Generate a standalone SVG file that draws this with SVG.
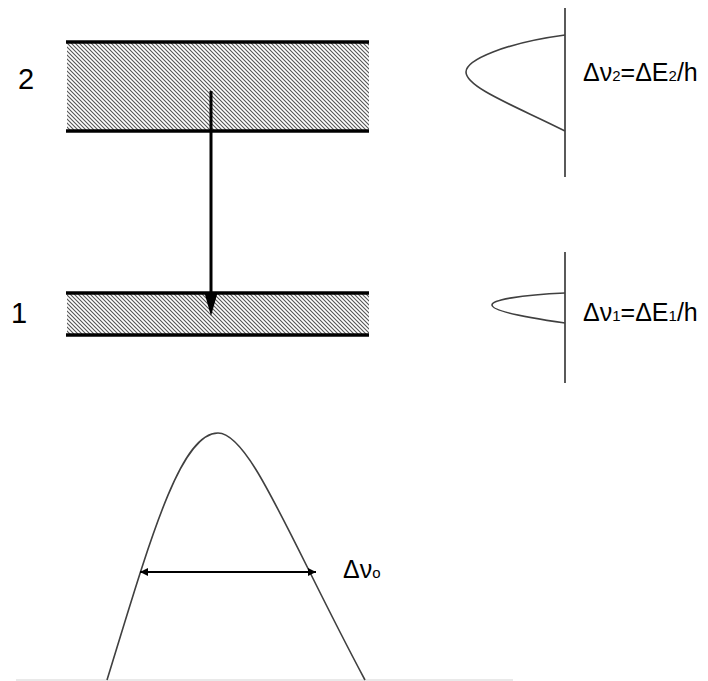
<svg xmlns="http://www.w3.org/2000/svg" width="708" height="681" viewBox="0 0 708 681">
<defs>
<pattern id="hatch" patternUnits="userSpaceOnUse" width="4" height="4">
<rect width="4" height="4" fill="#ffffff"/>
<path d="M-1,-1 L5,5 M-1,3 L1,5 M3,-1 L5,1" stroke="#555555" stroke-width="1.1"/>
</pattern>
<marker id="ah" viewBox="0 0 10 10" refX="10" refY="5" markerWidth="10" markerHeight="8" markerUnits="userSpaceOnUse" orient="auto-start-reverse">
<path d="M0,0 L10,5 L0,10 Z" fill="#000"/>
</marker>
</defs>
<style>
.band{stroke:#000;stroke-width:3.5}
.curve{fill:none;stroke:#404040;stroke-width:1.6}
.axis{stroke:#303030;stroke-width:1.6}
.lbl{font-family:"Liberation Sans",Arial,sans-serif;fill:#000}
</style>
<rect width="708" height="681" fill="#fff"/>
<g id="level2">
<rect x="67" y="42" width="302" height="89" fill="url(#hatch)"/>
<line class="band" x1="66" y1="42" x2="369" y2="42"/>
<line class="band" x1="66" y1="131" x2="369" y2="131"/>
<text class="lbl" x="18" y="89" font-size="29">2</text>
</g>
<g id="level1">
<rect x="67" y="293" width="302" height="42" fill="url(#hatch)"/>
<line class="band" x1="66" y1="293" x2="369" y2="293"/>
<line class="band" x1="66" y1="335" x2="369" y2="335"/>
<text class="lbl" x="11" y="323" font-size="29">1</text>
</g>
<g id="connectors">
<line x1="211" y1="91" x2="211" y2="298" stroke="#000" stroke-width="3"/>
<polygon points="204.5,293 217.5,293 211,316" fill="#000"/>
</g>
<g id="profile2">
<line class="axis" x1="565" y1="8" x2="565" y2="177"/>
<path class="curve" d="M565,35 C505,43 466,60 466,72 C466,88 520,108 565,131"/>
<text class="lbl" x="583" y="81" font-size="25">Δν<tspan font-size="15">2</tspan>=ΔE<tspan font-size="15">2</tspan>/h</text>
</g>
<g id="profile1">
<line class="axis" x1="565" y1="252" x2="565" y2="383"/>
<path class="curve" d="M565,293 C520,295 492,300 492,305 C492,311 530,318 565,323"/>
<text class="lbl" x="583" y="321" font-size="25">Δν<tspan font-size="15">1</tspan>=ΔE<tspan font-size="15">1</tspan>/h</text>
</g>
<g id="lineshape">
<line x1="16" y1="680" x2="513" y2="680" stroke="#e2e2e2" stroke-width="1.5"/>
<path class="curve" d="M107,680 C150,540 180,433 218,433 C250,433 290,540 365,680"/>
<line x1="140" y1="572" x2="316" y2="572" stroke="#000" stroke-width="2" marker-start="url(#ah)" marker-end="url(#ah)"/>
<text class="lbl" x="343" y="578" font-size="25">Δν<tspan font-size="15">o</tspan></text>
</g>
</svg>
